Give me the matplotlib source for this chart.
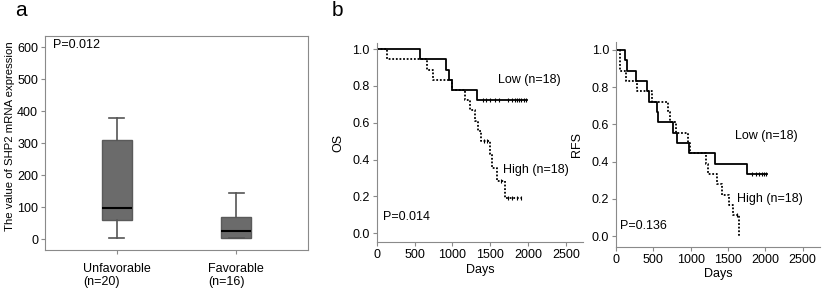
import matplotlib
matplotlib.use('Agg')
import matplotlib.pyplot as plt

# panel a: box plot summary
groups = ['Unfavorable\n(n=20)', 'Favorable\n(n=16)']
box_whislo = [3, 4]
box_q1 = [60, 6]
box_med = [97, 26]
box_q3 = [309, 69]
box_whishi = [379, 146]

# panel b: OS steps
os_low_t = [0, 572, 915, 950, 990, 1329, 1981]
os_low_s = [1.0, 0.944, 0.889, 0.833, 0.778, 0.722, 0.722]
os_low_cens_t = [1400, 1450, 1500, 1560, 1620, 1740, 1790, 1820, 1850, 1880, 1910, 1940, 1975]
os_low_cens_s = [0.722] * 13

os_high_t = [0, 132, 669, 748, 990, 1166, 1232, 1298, 1334, 1377, 1496, 1527, 1585, 1694, 1914]
os_high_s = [1.0, 0.944, 0.889, 0.833, 0.778, 0.722, 0.667, 0.611, 0.556, 0.5, 0.429, 0.357, 0.286, 0.19, 0.19]
os_high_cens_t = [1420, 1460, 1640, 1740, 1790, 1850, 1900]
os_high_cens_s = [0.5, 0.5, 0.286, 0.19, 0.19, 0.19, 0.19]

# RFS steps
rfs_low_t = [0, 120, 152, 264, 415, 446, 545, 565, 759, 821, 982, 1326, 1750, 2018]
rfs_low_s = [1.0, 0.944, 0.889, 0.833, 0.778, 0.722, 0.667, 0.611, 0.556, 0.5, 0.444, 0.389, 0.333, 0.333]
rfs_low_cens_t = [1820, 1870, 1910, 1950, 1985, 2015]
rfs_low_cens_s = [0.333] * 6

rfs_high_t = [0, 54, 134, 277, 478, 700, 725, 800, 968, 991, 1201, 1236, 1348, 1415, 1518, 1560, 1645]
rfs_high_s = [1.0, 0.889, 0.833, 0.778, 0.722, 0.667, 0.611, 0.556, 0.5, 0.444, 0.389, 0.333, 0.278, 0.222, 0.167, 0.111, 0.0]
rfs_high_cens_t = [1625]
rfs_high_cens_s = [0.111]

plt.rcParams['font.family'] = ['Liberation Sans', 'DejaVu Sans']
plt.rcParams['font.size'] = 9

W, H = 825, 289
fig = plt.figure(figsize=(W / 100, H / 100), dpi=100)
spine_col = '#8a8a8a'


def ax_rect(x0, y0, x1, y1):
    return [x0 / W, 1 - y1 / H, (x1 - x0) / W, (y1 - y0) / H]


# ---- panel a
ax = fig.add_axes(ax_rect(45, 36, 308, 250))
stats = []
for i in range(len(groups)):
    stats.append({'whislo': box_whislo[i], 'q1': box_q1[i], 'med': box_med[i],
                  'q3': box_q3[i], 'whishi': box_whishi[i], 'fliers': []})
ax.bxp(stats, positions=[1, 2], widths=0.25, patch_artist=True, showfliers=False,
       boxprops=dict(facecolor='#6b6b6b', edgecolor='#5a5a5a', linewidth=1),
       medianprops=dict(color='black', linewidth=1.5),
       whiskerprops=dict(color='#555555', linewidth=1.2),
       capprops=dict(color='#555555', linewidth=1.2), capwidths=0.13)
ax.set_xlim(0.4, 2.6)
ax.set_ylim(-33, 635)
ax.set_yticks([0, 100, 200, 300, 400, 500, 600])
ax.set_xticks([1, 2])
ax.set_xticklabels(groups, multialignment='left')
ax.tick_params(direction='out', length=3, color=spine_col, pad=2)
ax.tick_params(axis='x', pad=6)
for s in ax.spines.values():
    s.set_color(spine_col)
ax.set_ylabel('The value of SHP2 mRNA expression', fontsize=8.2)
ax.yaxis.set_label_coords(-0.115, 0.53)
ax.text(0.03, 0.985, 'P=0.012', transform=ax.transAxes, ha='left', va='top')
fig.text(15 / W, 1 - 10 / H, 'a', fontsize=15, va='center', ha='left')
fig.text(332 / W, 1 - 10 / H, 'b', fontsize=15, va='center', ha='left')


def km_axes(rect, ylim, ylab):
    a = fig.add_axes(rect)
    a.set_xlim(0, 2730)
    a.set_ylim(*ylim)
    a.set_xticks([0, 500, 1000, 1500, 2000, 2500])
    a.set_yticks([0, 0.2, 0.4, 0.6, 0.8, 1.0])
    a.set_yticklabels(['0.0', '0.2', '0.4', '0.6', '0.8', '1.0'])
    a.spines['top'].set_visible(False)
    a.spines['right'].set_visible(False)
    for s in ['left', 'bottom']:
        a.spines[s].set_color(spine_col)
    a.tick_params(direction='out', length=3, color=spine_col, pad=2)
    a.set_xlabel('Days', labelpad=2)
    a.set_ylabel(ylab, labelpad=6)
    return a


def km_draw(a, t, s, ct, cs, ls):
    a.step(t, s, where='post', color='black', linewidth=1.3, linestyle=ls)
    a.plot(ct, cs, linestyle='none', marker='|', markersize=3, color='black',
           markeredgewidth=0.8)


# ---- OS
ax2 = km_axes(ax_rect(376.7, 43, 583.4, 242), (-0.047, 1.033), 'OS')
km_draw(ax2, os_low_t, os_low_s, os_low_cens_t, os_low_cens_s, '-')
km_draw(ax2, os_high_t, os_high_s, os_high_cens_t, os_high_cens_s, (0, (1, 1)))
ax2.text(1600, 0.83, 'Low (n=18)', ha='left', va='center')
ax2.text(1665, 0.345, 'High (n=18)', ha='left', va='center')
ax2.text(85, 0.09, 'P=0.014', ha='left', va='center')

# ---- RFS
ax3 = km_axes(ax_rect(616, 42, 819.9, 246.7), (-0.0575, 1.043), 'RFS')
km_draw(ax3, rfs_low_t, rfs_low_s, rfs_low_cens_t, rfs_low_cens_s, '-')
km_draw(ax3, rfs_high_t, rfs_high_s, rfs_high_cens_t, rfs_high_cens_s, (0, (1, 1)))
ax3.text(1595, 0.54, 'Low (n=18)', ha='left', va='center')
ax3.text(1620, 0.2, 'High (n=18)', ha='left', va='center')
ax3.text(60, 0.055, 'P=0.136', ha='left', va='center')

fig.savefig('out.png', dpi=100)
